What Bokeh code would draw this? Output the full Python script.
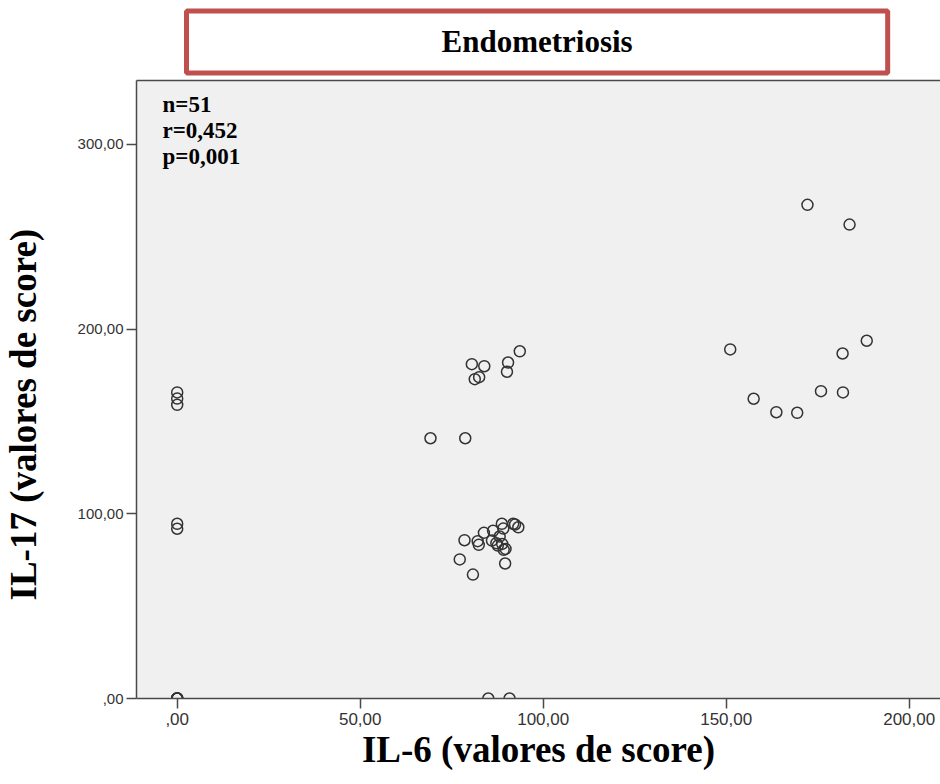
from bokeh.plotting import figure
from bokeh.models import Label, FixedTicker, LinearAxis, Range1d, Title
from bokeh.embed import file_html
from bokeh.resources import INLINE

# ---- data ----
il6 = [0, 0, 0, 0, 0,
       0, 0, 0, 0, 0,
       80.5, 83.9, 81.3, 82.5, 90.4, 90.1, 93.6, 69.2, 78.7,
       78.5, 77.2, 80.8, 89.6, 83.8, 82.1, 82.4, 86.3, 88.7, 89.1,
       91.8, 93.2, 92.3, 86.0, 88.1, 87.6, 88.8, 89.7, 89.2, 87.2,
       172.2, 183.7, 151.1, 188.4, 181.8, 157.5, 163.7, 169.4, 175.9, 181.9,
       85.0, 90.8]
il17 = [165.7, 162.4, 159.0, 94.6, 91.9,
        0, 0, 0, 0, 0,
        181.0, 179.9, 172.9, 174.0, 181.9, 176.9, 188.0, 140.9, 140.9,
        85.7, 75.3, 67.1, 73.1, 89.7, 85.2, 83.2, 90.8, 94.6, 92.0,
        94.6, 92.7, 94.2, 85.5, 87.7, 82.8, 83.7, 81.0, 80.5, 84.1,
        267.3, 256.6, 189.0, 193.7, 186.8, 162.3, 155.0, 154.7, 166.4, 165.7,
        0, 0]

x_ticks = [0, 50, 100, 150, 200]
x_tick_labels = [",00", "50,00", "100,00", "150,00", "200,00"]
y_ticks = [0, 100, 200, 300]
y_tick_labels = [",00", "100,00", "200,00", "300,00"]

title_text = "Endometriosis"
stats_lines = ["n=51", "r=0,452", "p=0,001"]
x_title = "IL-6 (valores de score)"
y_title = "IL-17 (valores de score)"

SERIF = "Liberation Serif"
SANS = "Liberation Sans"
AX = "#4a4a4a"

p = figure(frame_width=804, frame_height=618,
           min_border_left=136, min_border_right=0,
           min_border_top=80, min_border_bottom=86,
           x_range=Range1d(-11.12, 208.55), y_range=Range1d(0, 334.6),
           output_backend="svg", toolbar_location=None,
           background_fill_color="#f0f0f0", border_fill_color="white",
           outline_line_color=None)
p.grid.visible = False

p.scatter(il6, il17, marker="circle", size=11, fill_color=None,
          line_color="#333333", line_width=1.5)

for ax, ticks, labels in ((p.xaxis[0], x_ticks, x_tick_labels),
                          (p.yaxis[0], y_ticks, y_tick_labels)):
    ax.ticker = FixedTicker(ticks=ticks)
    ax.major_label_overrides = {t: l for t, l in zip(ticks, labels)}
    ax.axis_line_color = AX
    ax.axis_line_width = 1.5
    ax.major_tick_line_color = AX
    ax.major_tick_line_width = 1.5
    ax.major_tick_out = 10
    ax.major_tick_in = 0
    ax.minor_tick_out = 0
    ax.minor_tick_in = 0
    ax.major_label_text_font = SANS
    ax.major_label_text_color = "#333333"

p.xaxis.major_label_text_font_size = "17px"
p.yaxis.major_label_text_font_size = "15px"
p.xaxis.major_label_standoff = 4
p.yaxis.major_label_standoff = 3
p.xaxis.axis_label = x_title
p.xaxis.axis_label_text_font = SERIF
p.xaxis.axis_label_text_font_style = "bold"
p.xaxis.axis_label_text_font_size = "37px"
p.xaxis.axis_label_text_color = "black"
p.xaxis.axis_label_standoff = 1

# top frame line
top = LinearAxis(ticker=FixedTicker(ticks=[]), axis_line_color=AX,
                 axis_line_width=1.5, major_tick_out=0, minor_tick_out=0,
                 major_label_standoff=0, major_label_text_font_size="0px")
p.add_layout(top, "above")

# y axis title (left side, vertical)
p.add_layout(Title(text=y_title, align="left", offset=98, standoff=0,
                   text_font=SERIF, text_font_style="bold",
                   text_font_size="37px", text_color="black",
                   padding=dict(left=0, right=0, top=0, bottom=31)), "left")

# boxed chart title
p.add_layout(Title(text=title_text, align="left", offset=50, standoff=15,
                   text_font=SERIF, text_font_style="bold",
                   text_font_size="31px", text_color="black",
                   background_fill_color="white",
                   border_line_color="#c0504d", border_line_width=5,
                   padding=dict(left=255, right=255, top=13, bottom=14)),
             "above")

# stats block
for i, line in enumerate(stats_lines):
    p.add_layout(Label(x=26, y=594 - 26 * i, x_units="screen", y_units="screen",
                       text=line, text_align="left", text_baseline="alphabetic",
                       text_font=SERIF, text_font_style="bold",
                       text_font_size="23px", text_color="black"))

open("out.html", "w").write(file_html(p, INLINE))
